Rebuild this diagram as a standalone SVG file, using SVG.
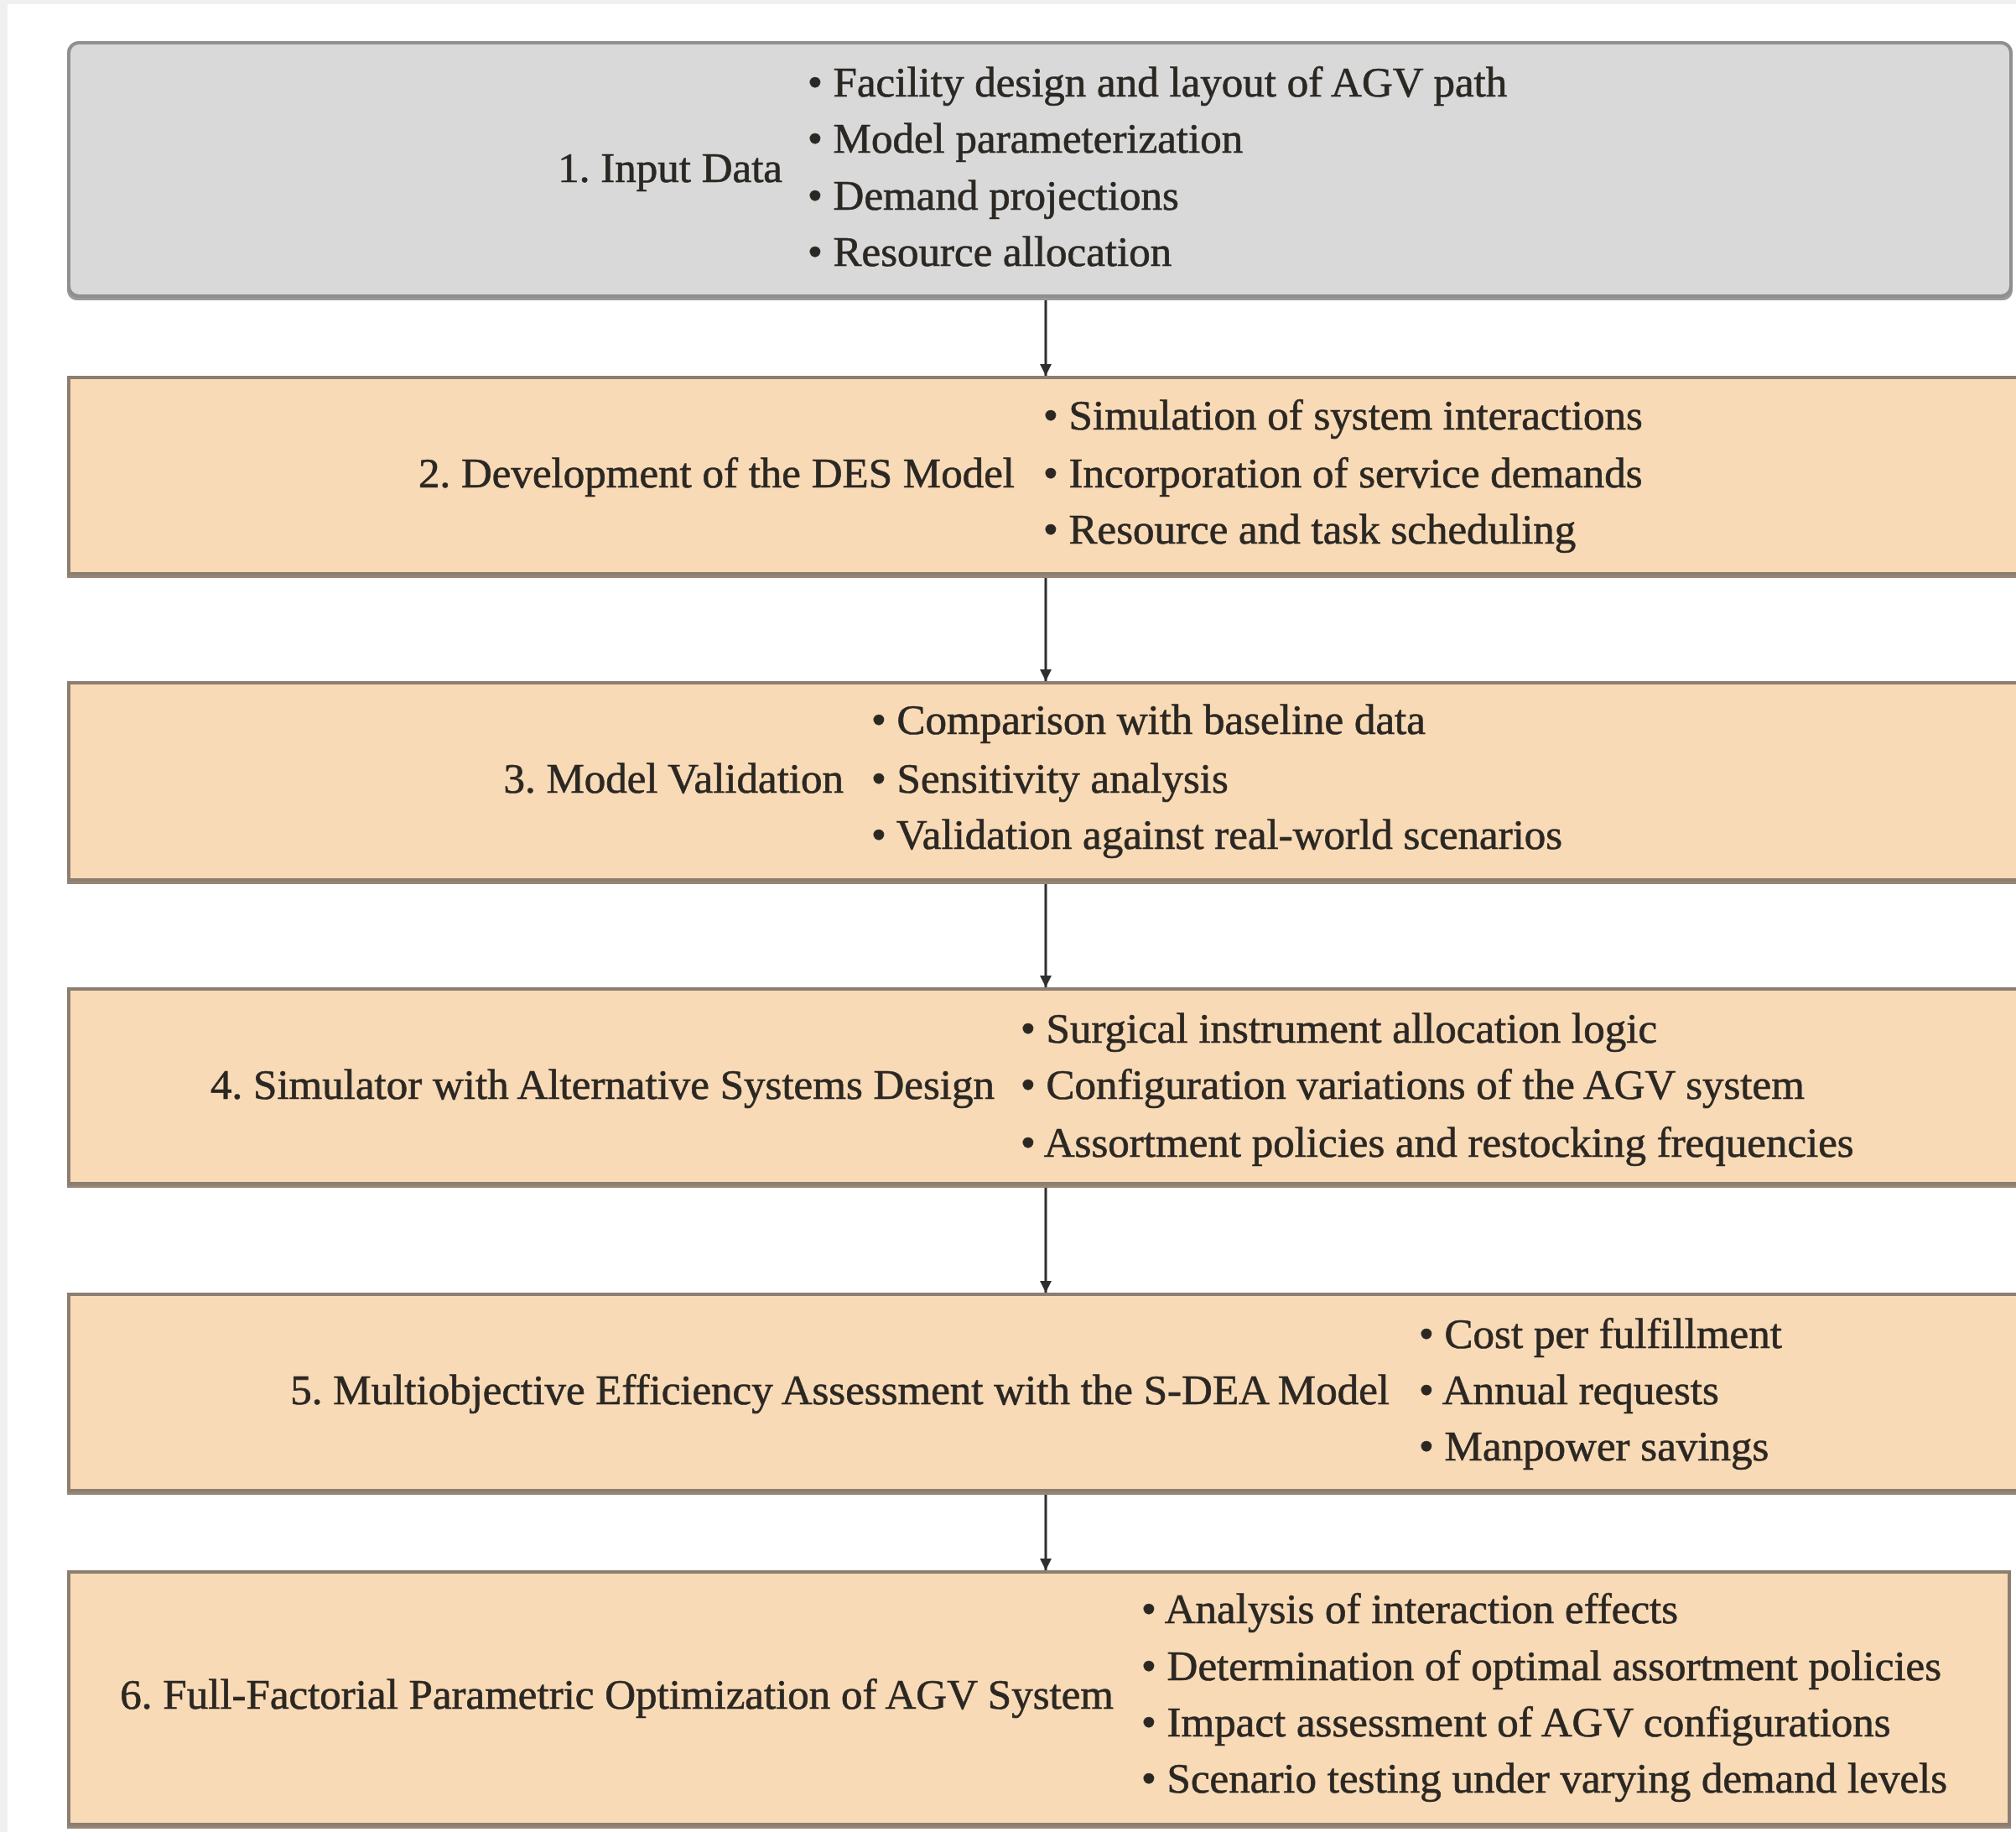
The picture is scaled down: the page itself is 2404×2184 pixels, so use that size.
<svg xmlns="http://www.w3.org/2000/svg" width="2404" height="2184" viewBox="0 0 2404 2184">
  <style>
    .lbl { font-family: "Liberation Serif", "Times New Roman", serif; font-size: 51px; fill: #2b2723; stroke: #2b2723; stroke-width: 0.7px; }
    .gray { fill: #d9d9d9; stroke: #8f8f8f; stroke-width: 4; }
    .peach { fill: #f8dab6; stroke: #8c7e70; stroke-width: 4; }
    .shadowG { fill: #9a9a9a; }
    .shadowP { fill: #978676; }
    .conn { stroke: #2f2f2f; stroke-width: 3; fill: none; }
  </style>
  <defs>
    <marker id="arrow" markerUnits="userSpaceOnUse" markerWidth="16" markerHeight="16" refX="15" refY="8" orient="auto" viewBox="0 0 16 16">
      <path d="M1,1 L15,8 L1,15 Z" fill="#2f2f2f"/>
    </marker>
  </defs>
  <rect x="0" y="0" width="2404" height="2184" fill="#ffffff"/>
  <rect x="0" y="0" width="2404" height="5" fill="#f0f0f0"/>
  <rect x="0" y="0" width="9" height="2184" fill="#f0f0f0"/>

  <g id="connectors">
    <line class="conn" x1="1247" y1="358" x2="1247" y2="448" marker-end="url(#arrow)"/>
    <line class="conn" x1="1247" y1="689" x2="1247" y2="812" marker-end="url(#arrow)"/>
    <line class="conn" x1="1247" y1="1054" x2="1247" y2="1177" marker-end="url(#arrow)"/>
    <line class="conn" x1="1247" y1="1416" x2="1247" y2="1541" marker-end="url(#arrow)"/>
    <line class="conn" x1="1247" y1="1782" x2="1247" y2="1872" marker-end="url(#arrow)"/>
  </g>

  <g id="node1">
    <rect class="shadowG" x="80" y="55" width="2320" height="303" rx="12"/>
    <rect class="gray" x="82" y="51" width="2316" height="302" rx="12"/>
    <text class="lbl" x="933" y="217" text-anchor="end">1. Input Data</text>
    <text class="lbl" x="963" y="115">• Facility design and layout of AGV path</text>
    <text class="lbl" x="963" y="182">• Model parameterization</text>
    <text class="lbl" x="963" y="250">• Demand projections</text>
    <text class="lbl" x="963" y="317">• Resource allocation</text>
  </g>

  <g id="node2">
    <rect class="shadowP" x="80" y="452" width="2340" height="237"/>
    <rect class="peach" x="82" y="450" width="2340" height="234"/>
    <text class="lbl" x="1210" y="581" text-anchor="end">2. Development of the DES Model</text>
    <text class="lbl" x="1244" y="512">• Simulation of system interactions</text>
    <text class="lbl" x="1244" y="581">• Incorporation of service demands</text>
    <text class="lbl" x="1244" y="648">• Resource and task scheduling</text>
  </g>

  <g id="node3">
    <rect class="shadowP" x="80" y="816" width="2340" height="238"/>
    <rect class="peach" x="82" y="814" width="2340" height="235"/>
    <text class="lbl" x="1006" y="945" text-anchor="end">3. Model Validation</text>
    <text class="lbl" x="1039" y="875">• Comparison with baseline data</text>
    <text class="lbl" x="1039" y="945">• Sensitivity analysis</text>
    <text class="lbl" x="1039" y="1012">• Validation against real-world scenarios</text>
  </g>

  <g id="node4">
    <rect class="shadowP" x="80" y="1181" width="2340" height="235"/>
    <rect class="peach" x="82" y="1179" width="2340" height="232"/>
    <text class="lbl" x="1186" y="1310" text-anchor="end">4. Simulator with Alternative Systems Design</text>
    <text class="lbl" x="1217" y="1243">• Surgical instrument allocation logic</text>
    <text class="lbl" x="1217" y="1310">• Configuration variations of the AGV system</text>
    <text class="lbl" x="1217" y="1379">• Assortment policies and restocking frequencies</text>
  </g>

  <g id="node5">
    <rect class="shadowP" x="80" y="1545" width="2340" height="237"/>
    <rect class="peach" x="82" y="1543" width="2340" height="234"/>
    <text class="lbl" x="1657" y="1674" text-anchor="end">5. Multiobjective Efficiency Assessment with the S-DEA Model</text>
    <text class="lbl" x="1692" y="1607">• Cost per fulfillment</text>
    <text class="lbl" x="1692" y="1674">• Annual requests</text>
    <text class="lbl" x="1692" y="1741">• Manpower savings</text>
  </g>

  <g id="node6">
    <rect class="shadowP" x="80" y="1876" width="2318" height="304"/>
    <rect class="peach" x="82" y="1874" width="2314" height="301"/>
    <text class="lbl" x="1328" y="2037" text-anchor="end">6. Full-Factorial Parametric Optimization of AGV System</text>
    <text class="lbl" x="1361" y="1935">• Analysis of interaction effects</text>
    <text class="lbl" x="1361" y="2003">• Determination of optimal assortment policies</text>
    <text class="lbl" x="1361" y="2070">• Impact assessment of AGV configurations</text>
    <text class="lbl" x="1361" y="2137">• Scenario testing under varying demand levels</text>
  </g>
</svg>
